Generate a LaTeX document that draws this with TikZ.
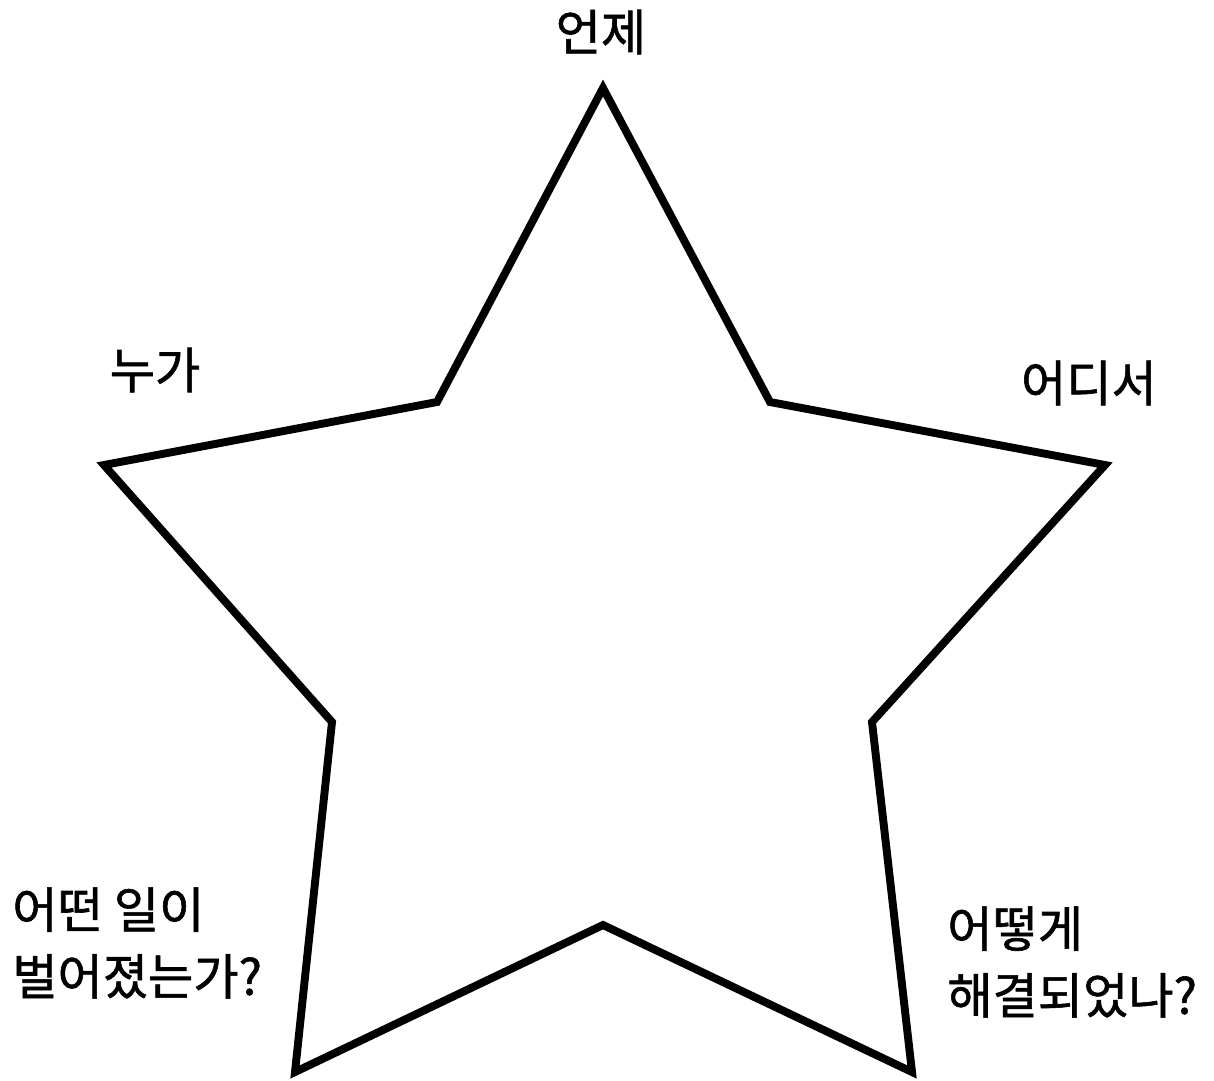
\documentclass[tikz,border=0pt]{standalone}
\usepackage{fontspec}
\newfontfamily\kofont[FakeBold=1.2]{Noto Sans CJK KR}
\usetikzlibrary{calc}

\begin{document}
\begin{tikzpicture}[x=0.02cm,y=-0.02cm]
       \tikzset{qlabel/.style={font=\kofont\fontsize{28}{38}\selectfont, inner sep=0pt, align=left}}
       \useasboundingbox[fill=white] (0,0) rectangle (1214,1080);

       \coordinate (top) at (603, 88);
       \coordinate (ur) at (770, 402);
       \coordinate (right) at (1105, 465);
       \coordinate (lr) at (872, 722);
       \coordinate (bright) at (912, 1072);
       \coordinate (bottom) at (603, 925);
       \coordinate (bleft) at (295, 1072);
       \coordinate (ll) at (332, 722);
       \coordinate (left) at (104, 465);
       \coordinate (ul) at (437, 402);

       \draw[black, line width=4.5pt, line join=miter] (top) -- (ur) -- (right) -- (lr) -- (bright) -- (bottom) -- (bleft) -- (ll) -- (left) -- (ul) -- cycle;

       \node[qlabel] (when) at (601, 32) {언제};
       \node[qlabel] (who) at (155, 370) {누가};
       \node[qlabel] (where) at (1089, 383) {어디서};
       \node[qlabel, anchor=west] (what) at (12, 943) {어떤 일이\\벌어졌는가?};
       \node[qlabel, anchor=west] (how) at (947, 962) {어떻게\\해결되었나?};
\end{tikzpicture}
\end{document}
